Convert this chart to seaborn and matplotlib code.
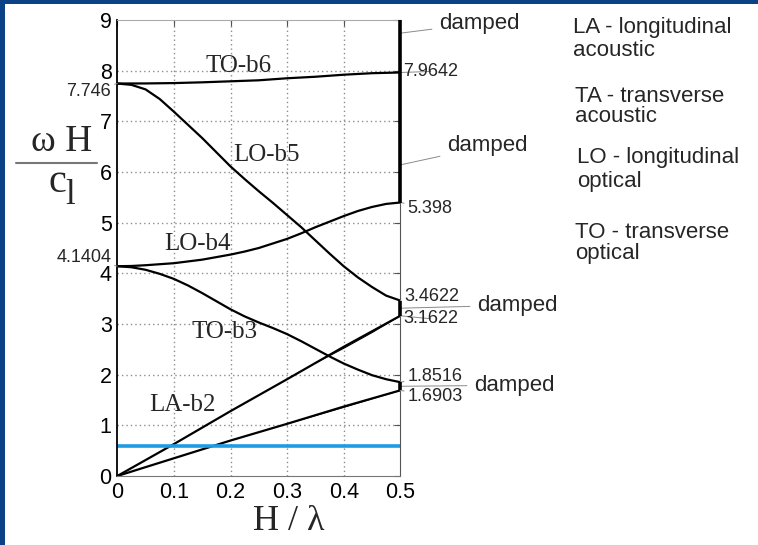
import numpy as np
import pandas as pd
import matplotlib.pyplot as plt
import seaborn as sns
from matplotlib.patches import Rectangle
from matplotlib.lines import Line2D

# wave number H/lambda
x_fine = [0, 0.025, 0.05, 0.075, 0.1, 0.125, 0.15, 0.175, 0.2, 0.225, 0.25,
          0.275, 0.3, 0.325, 0.35, 0.375, 0.4, 0.425, 0.45, 0.475, 0.5]
x_coarse = [0, 0.05, 0.1, 0.15, 0.2, 0.25, 0.3, 0.35, 0.4, 0.45, 0.5]
x_lin = [0, 0.1, 0.2, 0.3, 0.4, 0.5]

to_b6 = [7.746, 7.748, 7.755, 7.77, 7.79, 7.81, 7.85, 7.88, 7.92, 7.95, 7.9642]
lo_b5 = [7.746, 7.72, 7.63, 7.44, 7.19, 6.93, 6.67, 6.39, 6.11, 5.86, 5.62,
         5.39, 5.15, 4.91, 4.65, 4.39, 4.14, 3.92, 3.73, 3.56, 3.4622]
lo_b4 = [4.1404, 4.145, 4.16, 4.18, 4.20, 4.235, 4.27, 4.32, 4.37, 4.43, 4.50,
         4.59, 4.68, 4.79, 4.91, 5.02, 5.13, 5.23, 5.31, 5.37, 5.398]
to_b3 = [4.1404, 4.12, 4.07, 3.99, 3.89, 3.76, 3.61, 3.45, 3.29, 3.15, 3.03,
         2.92, 2.80, 2.66, 2.51, 2.36, 2.22, 2.10, 1.99, 1.91, 1.8516]
la_b2 = [0, 0.63, 1.28, 1.91, 2.55, 3.1622]
ta_b1 = [0, 0.35, 0.70, 1.03, 1.37, 1.6903]
la_b2_end_x = [0.35, 0.4, 0.45, 0.5]
la_b2_end = [2.23, 2.52, 2.83, 3.1622]
ta_b1_end_x = [0.3, 0.4, 0.5]
ta_b1_end = [1.03, 1.355, 1.6903]

blue_level = 0.6

damped_low = [5.398, 3.1622, 1.6903]
damped_high = [9.0, 3.4622, 1.8516]

branch_names = ['TO-b6', 'LO-b5', 'LO-b4', 'TO-b3', 'LA-b2']
branch_label_x = [0.215, 0.263, 0.141, 0.189, 0.116]
branch_label_y = [8.10, 6.34, 4.57, 2.85, 1.40]

legend_lines = ['LA - longitudinal', 'acoustic', 'TA - transverse', 'acoustic',
                'LO - longitudinal', 'optical', 'TO - transverse', 'optical']

W, H = 758, 545

sns.set_theme(style='white')
plt.rcParams['font.family'] = ['Liberation Sans', 'DejaVu Sans']

fig = plt.figure(figsize=(W / 100, H / 100), dpi=100)
fig.patch.set_facecolor('#0b4185')
fig.patches.append(Rectangle((5 / W, 0), 1, 1 - 4 / H, transform=fig.transFigure,
                             facecolor='white', edgecolor='none', zorder=-1))

ax = fig.add_axes([117.3 / W, 1 - 476 / H, 283 / W, 456 / H])
ax.set_facecolor('white')

# dotted grid
grid_style = dict(color='#8c8c8c', linestyle=(0, (1, 2.2)), linewidth=1.0, zorder=0.5)
for gx in x_lin[1:-1]:
    ax.axvline(gx, **grid_style)
for gy in range(1, 9):
    ax.axhline(gy, **grid_style)

for xs, ys in [(x_coarse, to_b6), (x_fine, lo_b5), (x_fine, lo_b4),
               (x_fine, to_b3), (x_lin, la_b2), (x_lin, ta_b1)]:
    sns.lineplot(x=xs, y=ys, ax=ax, color='black', lw=1.6)
for xs, ys in [(la_b2_end_x, la_b2_end), (ta_b1_end_x, ta_b1_end)]:
    sns.lineplot(x=xs, y=ys, ax=ax, color='black', lw=0.8)

sns.lineplot(x=[0, 0.5], y=[blue_level, blue_level], ax=ax, color='#1d9be4', lw=2.6)

ax.vlines([0.5] * 3, damped_low, damped_high, color='black', lw=2.6, clip_on=False, zorder=5)

ax.set_xlim(0, 0.5)
ax.set_ylim(0, 9)
ax.set_xticks(x_lin)
ax.set_xticklabels(['0', '0.1', '0.2', '0.3', '0.4', '0.5'])
ax.set_yticks(range(10))
ax.tick_params(direction='in', top=True, right=True, length=4, width=0.8,
               color='#555555', labelsize=15.5, pad=4, labelcolor='black')
ax.spines['left'].set_color('black')
ax.spines['left'].set_linewidth(1.3)
ax.spines['bottom'].set_color('#777777')
ax.spines['top'].set_color('#aaaaaa')
ax.spines['right'].set_color('#555555')
for s in ['bottom', 'top', 'right']:
    ax.spines[s].set_linewidth(0.8)

for name, lx, ly in zip(branch_names, branch_label_x, branch_label_y):
    ax.text(lx, ly, name, family='Liberation Serif', fontsize=18,
            ha='center', va='center')

# value annotations at the zone edges
gray = '#8a8a8a'
arrow = dict(arrowstyle='-', color=gray, lw=0.7, shrinkA=0, shrinkB=0)
edge_vals = [(0, 7.746, '7.746', -6, -8, 'right'),
             (0, 4.1404, '4.1404', -6, 9, 'right'),
             (0.5, 7.9642, '7.9642', 3, 1, 'left'),
             (0.5, 5.398, '5.398', 7, -6, 'left'),
             (0.5, 3.4622, '3.4622', 4, 4, 'left'),
             (0.5, 3.1622, '3.1622', 3, -3, 'left'),
             (0.5, 1.8516, '1.8516', 7, 6, 'left'),
             (0.5, 1.6903, '1.6903', 7, -6, 'left')]
for xv, yv, txt, dx, dy, ha in edge_vals:
    ax.annotate(txt, xy=(xv, yv), xytext=(dx, dy), textcoords='offset pixels',
                ha=ha, va='center', fontsize=13, arrowprops=arrow,
                annotation_clip=False)

damped_pts = [(8.74, 39, 10), (6.14, 47, 19), (3.312, 77, 3), (1.771, 74, 1)]
for yv, dx, dy in damped_pts:
    ax.annotate('damped', xy=(0.5, yv), xytext=(dx, dy), textcoords='offset pixels',
                ha='left', va='center', fontsize=16,
                arrowprops=dict(arrowstyle='-', color=gray, lw=0.7, shrinkA=3, shrinkB=0),
                annotation_clip=False)

# axis labels drawn as text
def fx(px):
    return px / W

def fy(py):
    return 1 - py / H

fig.text(fx(62), fy(142), 'ω H', family='Liberation Serif', fontsize=27,
         ha='center', va='center')
fig.lines.append(Line2D([fx(16), fx(97)], [fy(163), fy(163)], transform=fig.transFigure,
                        color='#777777', lw=1.5))
fig.text(fx(57), fy(182), 'c', family='Liberation Serif', fontsize=29,
         ha='center', va='center')
fig.text(fx(70), fy(196), 'l', family='Liberation Serif', fontsize=25,
         ha='center', va='center')
fig.text(fx(289), fy(522), 'H / λ', family='Liberation Serif', fontsize=26,
         ha='center', va='center')

legend_y = [27, 50, 96, 117, 158, 181, 233, 254]
legend_x = [573, 573, 575, 575, 577, 577, 575, 575]
for txt, lx, ly in zip(legend_lines, legend_x, legend_y):
    fig.text(fx(lx), fy(ly), txt, fontsize=16, ha='left', va='center')

plt.savefig('out.png', dpi=100, facecolor=fig.get_facecolor())
print('Saved out.png')
